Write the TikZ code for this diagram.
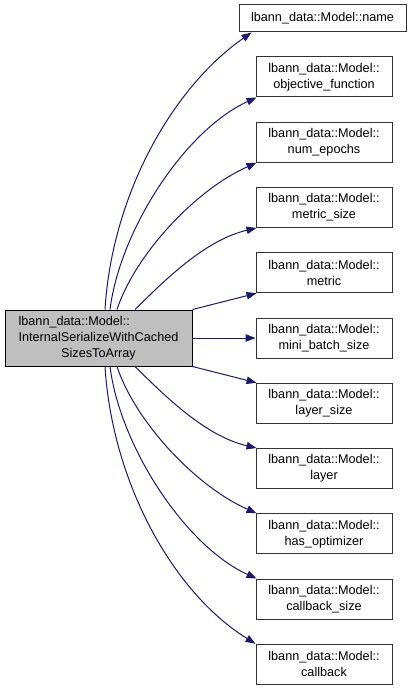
\documentclass[tikz,border=0pt]{standalone}
\usepackage{fontspec}
\setmainfont{Liberation Sans}
\usetikzlibrary{arrows.meta,calc}
\definecolor{edgeblue}{HTML}{191970}
\definecolor{boxgray}{HTML}{BFBFBF}
\definecolor{boxline}{HTML}{333333}
\begin{document}
\begin{tikzpicture}[x=0.75pt,y=-0.75pt,
  every node/.style={font=\fontsize{9.5}{12}\selectfont, align=center, inner sep=0pt},
  fnbox/.style={draw=boxline, line width=0.75pt, fill=white, minimum width=102pt, minimum height=30pt},
  srcbox/.style={draw=black, line width=0.75pt, fill=boxgray, minimum width=140.25pt, minimum height=42pt},
  edge/.style={draw=edgeblue, line width=0.75pt, -{Triangle[length=7.5pt,width=5.6pt]}}]
\useasboundingbox (0,0) rectangle (413,691);

\node[srcbox] (src) at (98.5,338) {\begin{tabular}{@{}l@{}}lbann\_data::Model::\\InternalSerializeWithCached\\\multicolumn{1}{@{}c@{}}{SizesToArray}\end{tabular}};

\node[fnbox, minimum width=125.25pt, minimum height=20.25pt] (n1) at (322.5,18.5) {lbann\_data::Model::name};
\node[fnbox] (n2) at (324,77) {lbann\_data::Model::\\objective\_function};
\node[fnbox] (n3) at (324,142.25) {lbann\_data::Model::\\num\_epochs};
\node[fnbox] (n4) at (324,207.5) {lbann\_data::Model::\\metric\_size};
\node[fnbox] (n5) at (324,272.75) {lbann\_data::Model::\\metric};
\node[fnbox] (n6) at (324,338) {lbann\_data::Model::\\mini\_batch\_size};
\node[fnbox] (n7) at (324,403.25) {lbann\_data::Model::\\layer\_size};
\node[fnbox] (n8) at (324,468.5) {lbann\_data::Model::\\layer};
\node[fnbox] (n9) at (324,533.75) {lbann\_data::Model::\\has\_optimizer};
\node[fnbox] (n10) at (324,599) {lbann\_data::Model::\\callback\_size};
\node[fnbox] (n11) at (324,664.25) {lbann\_data::Model::\\callback};

% upper edges
\draw[edge] ($(src.north)+(6.5,0)$) .. controls (112,195) and (172,88) .. ($(n1.south west)+(13,0)$);
\draw[edge] ($(src.north)+(11.5,0)$) .. controls (120,230) and (185,130) .. ($(n2.south west)+(1,0)$);
\draw[edge] ($(src.north)+(18.5,0)$) .. controls (135,255) and (195,190) .. ($(n3.south west)+(1,0)$);
\draw[edge] ($(src.north)+(36.5,0)$) .. controls (165,280) and (205,240) .. ($(n4.south west)+(1,0)$);
\draw[edge] (src.north east) -- ($(n5.south west)+(1,0)$);
% middle
\draw[edge] (src.east) -- (n6.west);
% lower edges
\draw[edge] (src.south east) -- ($(n7.north west)+(1,0)$);
\draw[edge] ($(src.south)+(36.5,0)$) .. controls (165,396) and (205,436) .. ($(n8.north west)+(1,0)$);
\draw[edge] ($(src.south)+(18.5,0)$) .. controls (135,421) and (195,486) .. ($(n9.north west)+(1,0)$);
\draw[edge] ($(src.south)+(11.5,0)$) .. controls (120,446) and (185,546) .. ($(n10.north west)+(1,0)$);
\draw[edge] ($(src.south)+(6.5,0)$) .. controls (112,481) and (172,592) .. (n11.north west);
\end{tikzpicture}
\end{document}
